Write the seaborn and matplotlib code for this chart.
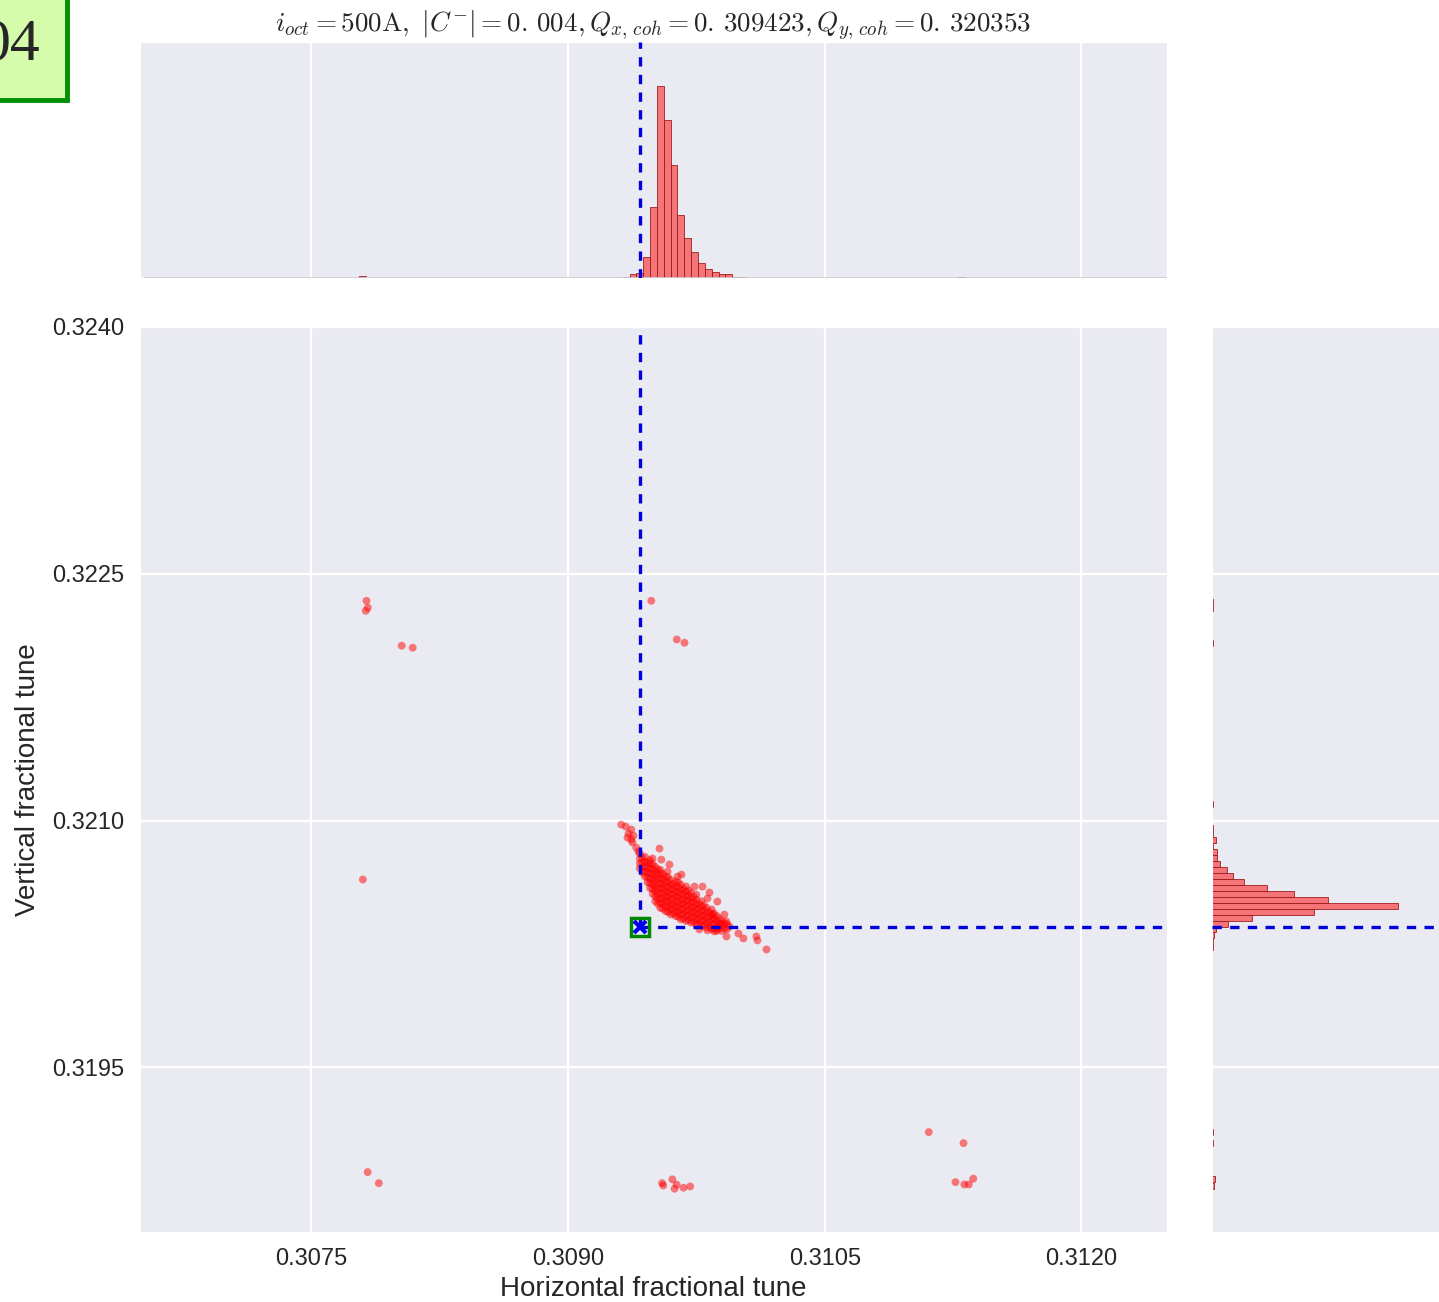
import numpy as np
import pandas as pd
import matplotlib
matplotlib.use('Agg')
import matplotlib.pyplot as plt
import matplotlib.ticker as mticker
import seaborn as sns

# coherent tunes (dashed lines + marker)
qx_coh = 0.309423
qy_coh = 0.320353

# dense core of the footprint: one qx column, with its qy values
core_qx = [0.30942, 0.30945, 0.30948, 0.30951, 0.30954, 0.30957, 0.30960, 0.30963, 0.30966,
           0.30969, 0.30972, 0.30975, 0.30978, 0.30981, 0.30984, 0.30987, 0.30990, 0.30993]
core_qy = [
    [0.32071, 0.32074, 0.32077, 0.32080],
    [0.32066, 0.32069, 0.32072, 0.32075, 0.32078],
    [0.32059, 0.32062, 0.32065, 0.32068, 0.32071, 0.32074, 0.32076],
    [0.32051, 0.32054, 0.32057, 0.32060, 0.32063, 0.32066, 0.32069, 0.32072],
    [0.32047, 0.32050, 0.32053, 0.32056, 0.32059, 0.32062, 0.32065, 0.32068, 0.32070],
    [0.32045, 0.32048, 0.32051, 0.32054, 0.32057, 0.32060, 0.32063, 0.32066],
    [0.32043, 0.32046, 0.32049, 0.32052, 0.32055, 0.32058, 0.32061, 0.32064],
    [0.32042, 0.32045, 0.32048, 0.32051, 0.32054, 0.32057, 0.32060, 0.32063],
    [0.32040, 0.32043, 0.32046, 0.32049, 0.32052, 0.32055, 0.32058, 0.32061],
    [0.32039, 0.32042, 0.32045, 0.32048, 0.32051, 0.32054, 0.32057, 0.32060],
    [0.32038, 0.32041, 0.32044, 0.32047, 0.32050, 0.32053, 0.32056],
    [0.32037, 0.32040, 0.32043, 0.32046, 0.32049, 0.32052, 0.32055],
    [0.32036, 0.32039, 0.32042, 0.32045, 0.32048, 0.32051],
    [0.32035, 0.32038, 0.32041, 0.32044, 0.32047],
    [0.32034, 0.32037, 0.32040, 0.32043, 0.32046],
    [0.32033, 0.32036, 0.32039, 0.32042],
    [0.32033, 0.32036, 0.32039],
    [0.32034, 0.32037],
]

# second layer of the core, lying between the columns above
core2_qx = [0.309435, 0.309465, 0.309495, 0.309525, 0.309555, 0.309585, 0.309615, 0.309645, 0.309675,
            0.309705, 0.309735, 0.309765, 0.309795, 0.309825, 0.309855, 0.309885, 0.309915]
core2_qy = [
    [0.320685, 0.320715, 0.320745, 0.320775],
    [0.320625, 0.320655, 0.320685, 0.320715, 0.320745],
    [0.320555, 0.320585, 0.320615, 0.320645, 0.320675, 0.320705, 0.320735],
    [0.320495, 0.320525, 0.320555, 0.320585, 0.320615, 0.320645, 0.320675, 0.320705],
    [0.320465, 0.320495, 0.320525, 0.320555, 0.320585, 0.320615, 0.320645, 0.320675],
    [0.320445, 0.320475, 0.320505, 0.320535, 0.320565, 0.320595, 0.320625, 0.320655],
    [0.320435, 0.320465, 0.320495, 0.320525, 0.320555, 0.320585, 0.320615],
    [0.320415, 0.320445, 0.320475, 0.320505, 0.320535, 0.320565, 0.320595, 0.320625],
    [0.320405, 0.320435, 0.320465, 0.320495, 0.320525, 0.320555, 0.320585],
    [0.320395, 0.320425, 0.320455, 0.320485, 0.320515, 0.320545, 0.320575],
    [0.320385, 0.320415, 0.320445, 0.320475, 0.320505, 0.320535],
    [0.320375, 0.320405, 0.320435, 0.320465, 0.320495],
    [0.320365, 0.320395, 0.320425, 0.320455, 0.320485],
    [0.320355, 0.320385, 0.320415, 0.320445],
    [0.320345, 0.320375, 0.320405, 0.320435],
    [0.320345, 0.320375, 0.320405],
    [0.320345, 0.320375],
]

# upper-left tail of the footprint
tail_qx = [0.309311, 0.309337, 0.309370, 0.309348, 0.309370, 0.309377, 0.309399, 0.309383, 0.309354, 0.309412]
tail_qy = [0.320976, 0.320964, 0.320946, 0.320897, 0.320885, 0.320867, 0.320836, 0.320909, 0.320921, 0.320812]

# loose particles around the core
halo_qx = [0.309535, 0.309494, 0.309546, 0.309593, 0.309582, 0.309640, 0.309663, 0.309739, 0.309786,
           0.309827, 0.309815, 0.309873, 0.309844, 0.309914, 0.309926, 0.309943, 0.309996, 0.310025,
           0.310101, 0.310107, 0.310160, 0.309926, 0.309856, 0.309768, 0.309897, 0.309873, 0.309815]
halo_qy = [0.320830, 0.320770, 0.320763, 0.320733, 0.320690, 0.320660, 0.320672, 0.320599, 0.320599,
           0.320563, 0.320527, 0.320508, 0.320429, 0.320429, 0.320387, 0.320357, 0.320314, 0.320284,
           0.320296, 0.320272, 0.320217, 0.320296, 0.320327, 0.320339, 0.320375, 0.320345, 0.320333]

# far outliers
outlier_qx = [0.307823, 0.307831, 0.307819, 0.308029, 0.308093, 0.309487, 0.309636, 0.309681, 0.307802,
              0.307830, 0.307895, 0.309550, 0.309557, 0.309610, 0.309635, 0.309623, 0.309675, 0.309714,
              0.311108, 0.311311, 0.311264, 0.311316, 0.311342, 0.311368]
outlier_qy = [0.322336, 0.322294, 0.322275, 0.322063, 0.322051, 0.322336, 0.322101, 0.322081, 0.320642,
              0.318864, 0.318797, 0.318797, 0.318783, 0.318820, 0.318788, 0.318763, 0.318769, 0.318777,
              0.319107, 0.319040, 0.318803, 0.318789, 0.318789, 0.318824]

# marginal histograms (counts)
qx_bin_start = 0.30932
qx_bin_width = 0.00004
qx_counts = [4, 12, 16, 64, 214, 575, 472, 340, 190, 120, 77, 45, 27, 17, 11, 11, 4, 2]
qx_extra = [0.30780, 0.31130]
qx_extra_counts = [5, 4]

qy_bin_start = 0.320211
qy_bin_width = 0.0000364
qy_counts = [2, 4, 6, 12, 49, 120, 306, 558, 349, 246, 166, 96, 62, 46, 24, 16, 16, 3, 12, 2, 2, 1]
qy_extra = [0.32233, 0.32229, 0.32208, 0.32110, 0.31911, 0.31904, 0.31882, 0.31878]
qy_extra_counts = [4, 4, 4, 2, 2, 2, 8, 6]

x_ticks = [0.3075, 0.3090, 0.3105, 0.3120]
y_ticks = [0.3195, 0.3210, 0.3225, 0.3240]
x_lim = (0.3065, 0.3125)
y_lim = (0.3185, 0.3240)
count_lim = 707

title = (r'$i_{oct}=500\mathrm{A},\ |C^{-}|=0.\,004, Q_{x,\,coh}=0.\,309423, '
         r'Q_{y,\,coh}=0.\,320353$')

sns.set_style('darkgrid')
plt.rcParams['font.family'] = ['Liberation Sans', 'DejaVu Sans']
plt.rcParams['mathtext.fontset'] = 'cm'

fig = plt.figure(figsize=(14.39, 13.02), dpi=100)
ax = fig.add_axes([0.0973, 0.05376, 0.7137, 0.6951])
ax_top = fig.add_axes([0.0973, 0.78648, 0.7137, 0.18126])
ax_right = fig.add_axes([0.84225, 0.05376, 0.164, 0.6951])

# scatter of the tune footprint
pts_qx = ([c for c, ys in zip(core_qx, core_qy) for _ in ys]
          + [c for c, ys in zip(core2_qx, core2_qy) for _ in ys]
          + tail_qx + halo_qx + outlier_qx)
pts_qy = ([y for ys in core_qy for y in ys] + [y for ys in core2_qy for y in ys]
          + tail_qy + halo_qy + outlier_qy)
sns.scatterplot(x=pts_qx, y=pts_qy, ax=ax, color='red', alpha=0.5, s=32,
                edgecolor='none', zorder=3)

dash = (0, (2.8, 2.5))
ax.plot([qx_coh, qx_coh], [qy_coh, y_lim[1]], color='#0000dd', lw=2.4, ls=dash, zorder=4)
ax.plot([qx_coh, x_lim[1]], [qy_coh, qy_coh], color='#0000dd', lw=2.4, ls=dash, zorder=4)
ax.plot(qx_coh, qy_coh, marker='s', ms=13, mfc='none', mec='#008800', mew=2.5, zorder=5)
ax.plot(qx_coh, qy_coh, marker='x', ms=9, color='#0000ee', mew=3, zorder=6)

ax.set_xlim(x_lim)
ax.set_ylim(y_lim)
ax.set_xticks(x_ticks)
ax.set_yticks(y_ticks)
ax.xaxis.set_major_formatter(mticker.FormatStrFormatter('%.4f'))
ax.yaxis.set_major_formatter(mticker.FormatStrFormatter('%.4f'))
ax.tick_params(labelsize=17, pad=8)
ax.set_xlabel('Horizontal fractional tune', fontsize=20, labelpad=4)
ax.set_ylabel('Vertical fractional tune', fontsize=20, labelpad=8)
ax.grid(color='white', lw=1.6)


def hist_bars(axis, orient, centers, counts, width):
    # one weighted histogram, bins centred on the given positions
    df = pd.DataFrame({'q': list(centers), 'n': list(counts)})
    edges = [float(c) - width / 2 for c in centers] + [float(centers[-1]) + width / 2]
    kw = dict(data=df, weights='n', bins=edges, ax=axis, color='red', alpha=0.5,
              edgecolor='#a02020', linewidth=0.6)
    if orient == 'x':
        sns.histplot(x='q', **kw)
    else:
        sns.histplot(y='q', **kw)


# top marginal histogram
qx_centers = [qx_bin_start + qx_bin_width * (i + 0.5) for i in range(len(qx_counts))]
hist_bars(ax_top, 'x', qx_centers, qx_counts, qx_bin_width)
for pos, c in zip(qx_extra, qx_extra_counts):
    hist_bars(ax_top, 'x', [pos], [c], qx_bin_width)
ax_top.axvline(qx_coh, color='#0000dd', lw=2.4, ls=dash, zorder=4)
ax_top.axhline(0, color='#c8c8d0', lw=1.2, xmin=0.005)
ax_top.set_xlim(x_lim)
ax_top.set_ylim(0, count_lim)
ax_top.set_xticks(x_ticks)
ax_top.set_yticks([])
ax_top.tick_params(labelbottom=False)
ax_top.set_xlabel('')
ax_top.set_ylabel('')
ax_top.grid(color='white', lw=1.6)
ax_top.set_title(title, fontsize=19.5, pad=4)

# right marginal histogram
qy_centers = [qy_bin_start + qy_bin_width * (i + 0.5) for i in range(len(qy_counts))]
hist_bars(ax_right, 'y', qy_centers, qy_counts, qy_bin_width)
for pos, c in zip(qy_extra, qy_extra_counts):
    hist_bars(ax_right, 'y', [pos], [c], qy_bin_width)
ax_right.axhline(qy_coh, color='#0000dd', lw=2.4, ls=dash, zorder=4)
ax_right.axvline(0, color='#c8c8d0', lw=1.2)
ax_right.set_ylim(y_lim)
ax_right.set_xlim(0, count_lim)
ax_right.set_yticks(y_ticks)
ax_right.set_xticks([])
ax_right.tick_params(labelleft=False)
ax_right.set_xlabel('')
ax_right.set_ylabel('')
ax_right.grid(color='white', lw=1.6)

# panel tag in the corner (partly outside the figure, as in the original)
fig.text(40 / 1439, 1 - 46 / 1302, '04', fontsize=43, family='Liberation Serif',
         ha='right', va='center',
         bbox=dict(boxstyle='square,pad=0.45', fc='#d4fcaa', ec='#009000', lw=3.5))

fig.savefig('out.png', dpi=100)
